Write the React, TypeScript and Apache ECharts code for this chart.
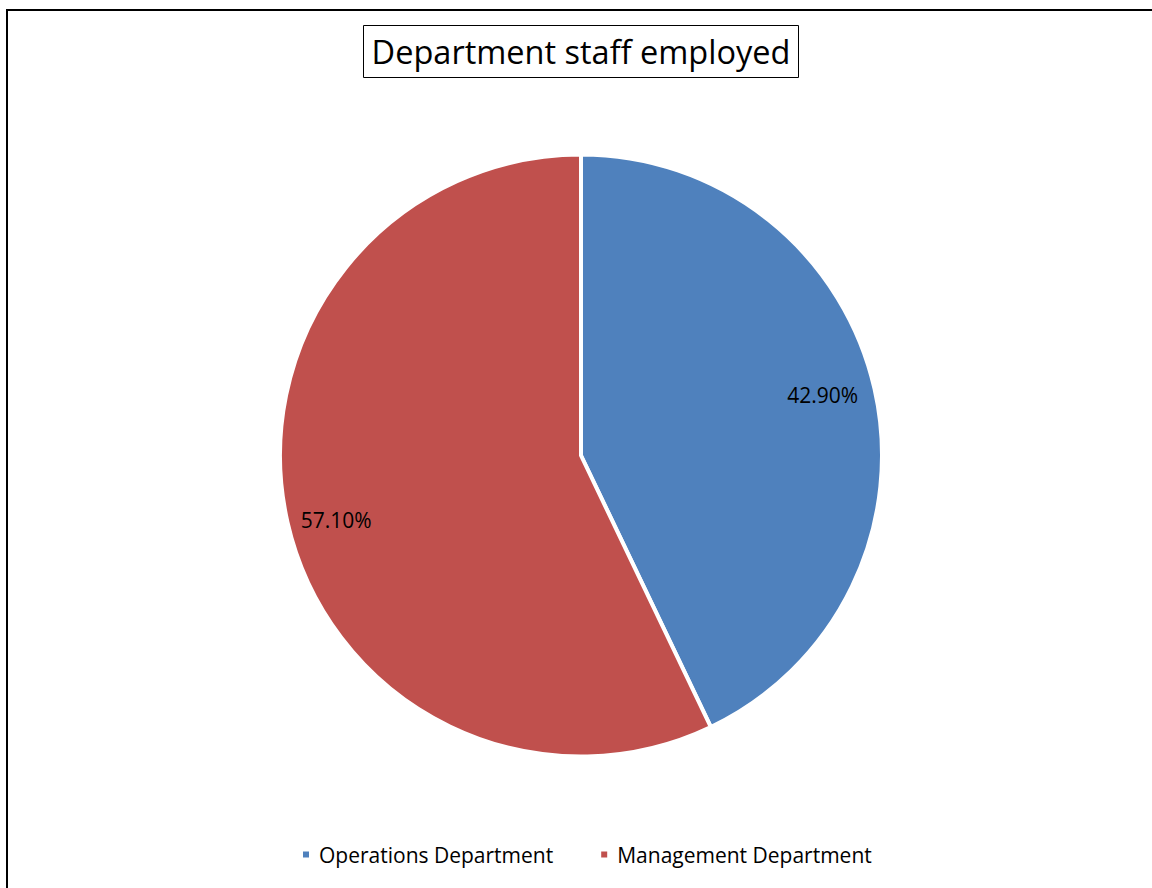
import React, { useEffect, useRef } from "react";
import * as echarts from "echarts";

const titleText = "Department staff employed";
const categories = ["Operations Department", "Management Department"];
const values = [42.9, 57.1];
const colors = ["#4F81BD", "#C0504D"];

const FONT = "'Open Sans'";
const labelOffsets = [
  [-5, -5],
  [2, 9],
];

export default function App() {
  const ref = useRef<HTMLDivElement>(null);
  useEffect(() => {
    if (!ref.current) return;
    const chart = echarts.init(ref.current, null, { renderer: "svg" });
    const data = categories.map((name, i) => ({ name, value: values[i] }));
    const labelData = categories.map((name, i) => ({
      name,
      value: values[i],
      label: { offset: labelOffsets[i] },
    }));
    chart.setOption({
      animation: false,
      backgroundColor: "#ffffff",
      color: colors,
      title: {
        text: titleText,
        left: 573,
        textAlign: "center",
        top: 25,
        padding: [7, 8, 7, 8],
        borderColor: "#000",
        borderWidth: 1,
        textStyle: {
          fontFamily: FONT,
          fontSize: 32.5,
          fontWeight: "normal",
          color: "#000",
          lineHeight: 39,
        },
      },
      legend: {
        data: categories,
        left: 296,
        top: 839,
        icon: "rect",
        itemWidth: 8,
        itemHeight: 8,
        itemGap: 46,
        textStyle: {
          fontFamily: FONT,
          fontSize: 21,
          color: "#000",
          padding: [0, 0, 0, 4],
        },
      },
      graphic: [
        {
          type: "rect",
          shape: { x: 7, y: 10, width: 1300, height: 1000 },
          style: { fill: "none", stroke: "#000", lineWidth: 2 },
          silent: true,
        },
      ],
      series: [
        {
          type: "pie",
          center: [581, 455.5],
          radius: [0, 301],
          startAngle: 90,
          clockwise: true,
          label: { show: false },
          labelLine: { show: false },
          itemStyle: { borderColor: "#fff", borderWidth: 4 },
          emphasis: { disabled: true },
          data,
        },
        {
          type: "pie",
          center: [581, 455.5],
          radius: [200, 300],
          startAngle: 90,
          clockwise: true,
          silent: true,
          itemStyle: { color: "transparent", borderWidth: 0 },
          label: {
            show: true,
            position: "inside",
            formatter: (p: any) => Number(p.value).toFixed(2) + "%",
            fontFamily: FONT,
            fontSize: 21,
            color: "#000",
          },
          labelLine: { show: false },
          emphasis: { disabled: true },
          data: labelData,
        },
      ],
    });
    return () => chart.dispose();
  }, []);
  return (
    <div
      ref={ref}
      style={{ position: "absolute", left: 0, top: 0, width: 1152, height: 888 }}
    />
  );
}
